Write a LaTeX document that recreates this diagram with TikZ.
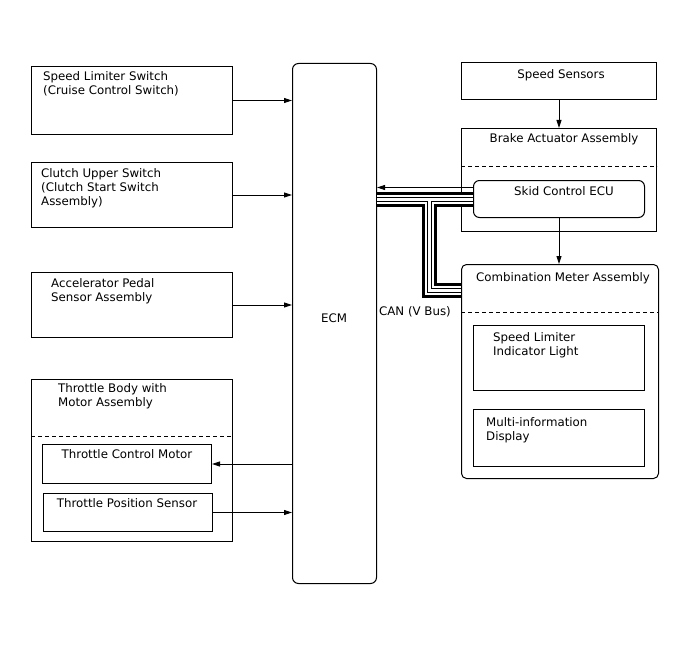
\documentclass[tikz,border=0pt]{standalone}
\usepackage{fontspec}
\setmainfont{DejaVu Sans}
\usepackage{tikz}
\usetikzlibrary{arrows.meta, positioning, calc}

\begin{document}
\begin{tikzpicture}[
        x=1pt, y=-1pt,
        font=\fontsize{11.8}{14}\selectfont,
        box/.style={rectangle, draw=black, line width=1pt, fill=white, inner sep=0pt, anchor=north west},
        rbox/.style={box, rounded corners=6pt},
        txt/.style={align=left, inner sep=0pt, anchor=north west},
        ctxt/.style={align=center, inner sep=0pt, anchor=north},
        sig/.style={line width=0.9pt, -{Triangle[length=8pt, width=5pt]}},
        sep/.style={line width=0.9pt, dash pattern=on 4pt off 3pt},
        canbus/.style={line width=3pt, draw=white,
            preaction={draw=black, line width=14.5pt},
            preaction={draw=white, line width=9pt},
            preaction={draw=black, line width=5pt}}
    ]
        \useasboundingbox (0,0) rectangle (688,658);

        % ECM
        \node[rbox, minimum width=84pt, minimum height=520pt] (ecm) at (292,63) {};
        \node (ecmlbl) at (334,318) {ECM};

        % Inputs left
        \node[box, minimum width=201pt, minimum height=68pt] (spdsw) at (31,66) {};
        \node[txt] (spdswlbl) at (43,71) {Speed Limiter Switch\\(Cruise Control Switch)};
        \node[box, minimum width=201pt, minimum height=65pt] (clutch) at (31,162) {};
        \node[txt] (clutchlbl) at (41,168) {Clutch Upper Switch\\(Clutch Start Switch\\Assembly)};
        \node[box, minimum width=201pt, minimum height=65pt] (accel) at (31,272) {};
        \node[txt] (accellbl) at (51,278) {Accelerator Pedal\\Sensor Assembly};

        % Throttle body
        \node[box, minimum width=201pt, minimum height=162pt] (thbody) at (31,379) {};
        \node[txt] (thbodylbl) at (58,383) {Throttle Body with\\Motor Assembly};
        \draw[sep] ([yshift=-57pt]thbody.north west) -- ([yshift=-57pt]thbody.north east);
        \node[box, minimum width=169pt, minimum height=39pt] (thmotor) at (42,444) {};
        \node[ctxt] (thmotorlbl) at (127,449) {Throttle Control Motor};
        \node[box, minimum width=169pt, minimum height=38pt] (tps) at (43,493) {};
        \node[ctxt] (tpslbl) at (127,498) {Throttle Position Sensor};

        \draw[sig] (spdsw) -- (spdsw -| ecm.west);
        \draw[sig] (clutch) -- (clutch -| ecm.west);
        \draw[sig] (accel) -- (accel -| ecm.west);
        \draw[sig] (thmotor -| ecm.west) -- (thmotor.east);
        \draw[sig] (tps) -- (tps -| ecm.west);

        % Right side
        \node[box, minimum width=195pt, minimum height=37pt] (spdsens) at (461,62) {};
        \node[ctxt] (spdsenslbl) at (561,69) {Speed Sensors};
        \node[box, minimum width=195pt, minimum height=103pt] (brake) at (461,128) {};
        \node[ctxt] (brakelbl) at (564,133) {Brake Actuator Assembly};
        \draw[sep] ([yshift=-38pt]brake.north west) -- ([yshift=-38pt]brake.north east);
        \node[box, rounded corners=5pt, minimum width=197pt, minimum height=214pt] (combo) at (461,264) {};
        \node[ctxt] (combolbl) at (563,272) {Combination Meter Assembly};
        \draw[sep] ([yshift=-48pt]combo.north west) -- ([yshift=-48pt]combo.north east);
        \node[box, minimum width=171pt, minimum height=65pt] (indlight) at (473,325) {};
        \node[txt] (indlightlbl) at (493,332) {Speed Limiter\\Indicator Light};
        \node[box, minimum width=171pt, minimum height=57pt] (mid) at (473,409) {};
        \node[txt] (midlbl) at (486,417) {Multi-information\\Display};

        \draw[sig] (spdsens) -- (brake.north -| spdsens);

        % CAN bus
        \coordinate (tap) at (429.5,199.5);
        \draw[canbus] (ecm.east |- tap) -- (tap -| brake.west) -- +(12,0) coordinate (skidin)
            (tap) |- ([yshift=81pt]combo.west);
        \node[rbox, minimum width=171pt, minimum height=37pt] (skid) at (473,180) {};
        \node[ctxt] (skidlbl) at (564,186) {Skid Control ECU};
        \node (canlbl) at (415,312) {CAN (V Bus)};

        \draw[sig] ([yshift=11.5pt]skid.west) -- ([yshift=11.5pt]skid.west -| ecm.east);
        \draw[sig] (skid) -- (skid |- combo.north);
\end{tikzpicture}
\end{document}
